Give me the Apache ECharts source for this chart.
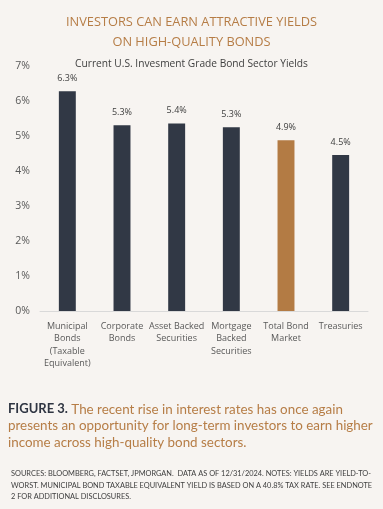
<!DOCTYPE html>
<html><head><meta charset="utf-8">
<script src="https://cdn.jsdelivr.net/npm/echarts@6/dist/echarts.min.js"></script>
<style>html,body{margin:0;padding:0;background:#f7f4f1;}#c{width:383px;height:509px;}</style>
</head><body><div id="c"></div>
<script>
const categories = ["Municipal\nBonds\n(Taxable\nEquivalent)", "Corporate\nBonds", "Asset Backed\nSecurities", "Mortgage\nBacked\nSecurities", "Total Bond\nMarket", "Treasuries"];
const yields = [6.28, 5.31, 5.36, 5.25, 4.88, 4.46];
const highlightIndex = 4;
const yTicks = [0, 1, 2, 3, 4, 5, 6, 7];
const titleLines = ["INVESTORS CAN EARN ATTRACTIVE YIELDS", "ON HIGH-QUALITY BONDS"];
const subtitle = "Current U.S. Invesment Grade Bond Sector Yields";

const chart = echarts.init(document.getElementById('c'), null, {renderer: 'canvas'});
const font = '"Open Sans", "Noto Sans", sans-serif';
const font2 = 'Lato, "Open Sans", sans-serif';
chart.setOption({
  backgroundColor: '#f7f4f1',
  animation: false,
  title: [
    {text: titleLines.join('\n'), left: 'center', top: 8, textStyle: {color: '#b67d46', fontSize: 12.8, fontWeight: 'normal', fontFamily: font, lineHeight: 19.5}},
    {text: subtitle, left: 'center', top: 54, textStyle: {color: '#404040', fontSize: 10.2, fontWeight: 'normal', fontFamily: font}}
  ],
  grid: {left: 40, right: 15, top: 66, bottom: 198},
  xAxis: {
    type: 'category', data: categories,
    axisLine: {lineStyle: {color: '#d9d9d9', width: 1}},
    axisTick: {show: false},
    axisLabel: {color: '#595959', fontSize: 9, fontFamily: font, lineHeight: 12.5, interval: 0, margin: 9}
  },
  yAxis: {
    type: 'value', min: 0, max: 7, interval: 1,
    splitLine: {show: false},
    axisLabel: {color: '#595959', fontSize: 10.5, fontFamily: font, formatter: v => v + '%', margin: 10}
  },
  series: [{
    type: 'bar', barWidth: '31%',
    data: yields.map((v, i) => ({value: v, itemStyle: {color: i === highlightIndex ? '#b37b44' : '#313845'}})),
    label: {show: true, position: 'top', distance: 8, color: '#404040', fontSize: 9, fontFamily: font, formatter: p => p.value.toFixed(1) + '%'}
  }],
  graphic: [
    {type: 'text', left: 8, top: 401, style: {
      text: '{b|FIGURE 3.} The recent rise in interest rates has once again\npresents an opportunity for long-term investors to earn higher\nincome across high-quality bond sectors.',
      fill: '#b67d46', font: '13.4px ' + font2, lineHeight: 16.5,
      rich: {b: {fill: '#2f3542', fontWeight: 'bold', fontSize: 13, fontFamily: font2}}
    }},
    {type: 'text', left: 11, top: 468, style: {
      text: 'SOURCES: BLOOMBERG, FACTSET, JPMORGAN.  DATA AS OF 12/31/2024. NOTES: YIELDS ARE YIELD-TO-\nWORST. MUNICIPAL BOND TAXABLE EQUIVALENT YIELD IS BASED ON A 40.8% TAX RATE. SEE ENDNOTE\n2 FOR ADDITIONAL DISCLOSURES.',
      fill: '#404040', font: '7.4px ' + font2, lineHeight: 11.5
    }}
  ]
});
</script></body></html>
